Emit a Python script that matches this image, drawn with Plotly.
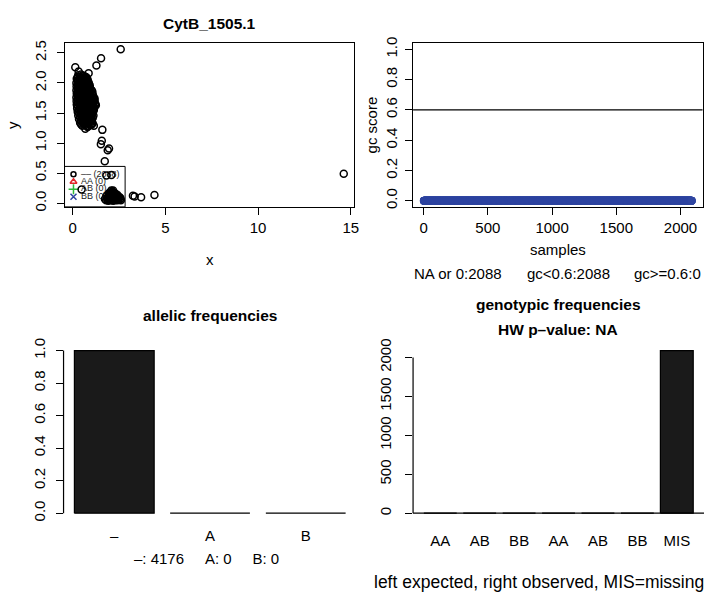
import plotly.graph_objects as go

W, H = 710, 594
FONT = "Liberation Sans"

# ---------------- data ----------------
main_title = "CytB_1505.1"

# dense upper-left cloud (x, y)
cloud_upper = [
    (0.30, 2.13), (0.45, 2.14), (0.60, 2.12), (0.72, 2.10),
    (0.27, 2.10), (0.40, 2.10), (0.53, 2.09), (0.67, 2.10), (0.78, 2.08),
    (0.22, 2.07), (0.36, 2.06), (0.50, 2.05), (0.65, 2.07), (0.80, 2.05),
    (0.27, 2.03), (0.42, 2.04), (0.56, 2.03), (0.70, 2.04), (0.84, 2.02),
    (0.20, 2.00), (0.34, 2.01), (0.48, 1.99), (0.62, 2.00), (0.76, 2.01), (0.88, 1.99),
    (0.27, 1.97), (0.41, 1.98), (0.55, 1.96), (0.69, 1.97), (0.83, 1.98), (0.92, 1.96),
    (0.21, 1.94), (0.35, 1.95), (0.49, 1.93), (0.63, 1.94), (0.77, 1.95), (0.92, 1.93),
    (0.27, 1.91), (0.41, 1.92), (0.55, 1.90), (0.69, 1.91), (0.83, 1.92), (0.96, 1.90),
    (0.20, 1.88), (0.34, 1.89), (0.48, 1.87), (0.62, 1.88), (0.76, 1.89), (0.90, 1.87), (1.02, 1.88),
    (0.27, 1.85), (0.41, 1.86), (0.55, 1.84), (0.69, 1.85), (0.83, 1.86), (0.97, 1.84), (1.06, 1.86),
    (0.22, 1.82), (0.36, 1.83), (0.50, 1.81), (0.64, 1.82), (0.78, 1.83), (0.92, 1.81), (1.06, 1.82),
    (0.27, 1.79), (0.41, 1.80), (0.55, 1.78), (0.69, 1.79), (0.83, 1.80), (0.97, 1.78), (1.10, 1.79),
    (0.20, 1.76), (0.34, 1.77), (0.48, 1.75), (0.62, 1.76), (0.76, 1.77), (0.90, 1.75), (1.04, 1.76), (1.14, 1.75),
    (0.27, 1.73), (0.41, 1.74), (0.55, 1.72), (0.69, 1.73), (0.83, 1.74), (0.97, 1.72), (1.11, 1.73), (1.18, 1.74),
    (0.21, 1.70), (0.35, 1.71), (0.49, 1.69), (0.63, 1.70), (0.77, 1.71), (0.91, 1.69), (1.05, 1.70), (1.18, 1.71),
    (0.28, 1.67), (0.42, 1.68), (0.56, 1.66), (0.70, 1.67), (0.84, 1.68), (0.98, 1.66), (1.12, 1.67), (1.22, 1.66),
    (0.22, 1.64), (0.36, 1.65), (0.50, 1.63), (0.64, 1.64), (0.78, 1.65), (0.92, 1.63), (1.06, 1.64), (1.20, 1.63),
    (0.30, 1.61), (0.44, 1.62), (0.58, 1.60), (0.72, 1.61), (0.86, 1.62), (1.00, 1.60), (1.13, 1.61),
    (0.24, 1.58), (0.38, 1.59), (0.52, 1.57), (0.66, 1.58), (0.80, 1.59), (0.94, 1.57), (1.08, 1.58), (1.16, 1.59),
    (0.33, 1.55), (0.47, 1.56), (0.61, 1.54), (0.75, 1.55), (0.89, 1.56), (1.03, 1.54), (1.14, 1.55),
    (0.27, 1.52), (0.41, 1.53), (0.55, 1.51), (0.69, 1.52), (0.83, 1.53), (0.97, 1.51), (1.10, 1.52),
    (0.36, 1.49), (0.50, 1.50), (0.64, 1.48), (0.78, 1.49), (0.92, 1.50), (1.05, 1.48),
    (0.30, 1.46), (0.44, 1.47), (0.58, 1.45), (0.72, 1.46), (0.86, 1.47), (1.00, 1.45), (1.12, 1.46),
    (0.40, 1.43), (0.54, 1.44), (0.68, 1.42), (0.82, 1.43), (0.96, 1.44), (1.08, 1.42),
    (0.34, 1.40), (0.48, 1.41), (0.62, 1.39), (0.76, 1.40), (0.90, 1.41), (1.04, 1.39),
    (0.44, 1.37), (0.58, 1.38), (0.72, 1.36), (0.86, 1.37), (1.00, 1.38),
    (0.40, 1.34), (0.54, 1.35), (0.68, 1.33), (0.82, 1.34), (0.96, 1.35), (1.08, 1.33),
    (0.46, 1.31), (0.60, 1.32), (0.75, 1.31), (0.92, 1.31), (1.04, 1.32),
    (0.52, 1.29), (0.66, 1.30), (0.84, 1.28), (1.00, 1.30), (1.25, 1.63),
]

# dense lower cloud (x, y)
cloud_lower = [
    (1.80, 0.05), (1.92, 0.04), (2.05, 0.05), (2.18, 0.04), (2.30, 0.05), (2.42, 0.05), (2.55, 0.06),
    (1.74, 0.07), (1.86, 0.07), (1.98, 0.07), (2.10, 0.07), (2.22, 0.07), (2.34, 0.07), (2.46, 0.07), (2.60, 0.05),
    (1.88, 0.09), (2.00, 0.10), (2.12, 0.09), (2.24, 0.10), (2.36, 0.09), (2.48, 0.09), (2.58, 0.08),
    (1.82, 0.12), (1.94, 0.12), (2.06, 0.12), (2.18, 0.12), (2.30, 0.11), (2.42, 0.10), (2.54, 0.10),
    (1.95, 0.14), (2.07, 0.15), (2.19, 0.14), (2.31, 0.13), (2.43, 0.12),
    (1.96, 0.17), (2.08, 0.17), (2.20, 0.16), (2.32, 0.15), (2.40, 0.14),
    (2.02, 0.18), (2.14, 0.19), (2.26, 0.17), (2.08, 0.21), (2.18, 0.21),
]

# scattered points (x, y)
outliers = [
    (2.59, 2.56), (1.53, 2.41), (1.28, 2.29), (0.14, 2.26), (0.32, 2.19), (0.86, 2.16),
    (0.68, 1.24), (0.80, 1.27), (1.14, 1.29), (1.60, 1.22), (1.57, 1.04), (1.52, 0.98),
    (1.96, 0.91), (1.89, 0.88), (1.73, 0.70), (1.82, 0.46), (2.09, 0.47), (0.48, 0.23),
    (3.25, 0.125), (3.34, 0.11), (3.69, 0.10), (4.41, 0.135), (14.62, 0.49),
]

scatter_xticks = [0, 5, 10, 15]
scatter_yticks = [0.0, 0.5, 1.0, 1.5, 2.0, 2.5]

legend_labels = ["–– (2088)", "AA (0)", "AB (0)", "BB (0)"]
legend_symbols = ["circle-open", "triangle-up-open", "cross-thin-open", "x-thin-open"]
legend_colors = ["#000000", "#E3262B", "#2DB83A", "#2F45A0"]
legend_sizes = [5, 6, 7, 6]

n_samples = 2088
sample_index = list(range(1, n_samples + 1))
gc_scores = [0.0] * n_samples
gc_threshold = 0.6
gc_xticks = [0, 500, 1000, 1500, 2000]
gc_yticks = [0.0, 0.2, 0.4, 0.6, 0.8, 1.0]
gc_summary = ["NA or 0:2088", "gc<0.6:2088", "gc>=0.6:0"]

allele_names = ["–", "A", "B"]
allele_freq = [1.0, 0.0, 0.0]
allele_yticks = [0.0, 0.2, 0.4, 0.6, 0.8, 1.0]
allele_summary = "–: 4176\u00a0\u00a0\u00a0\u00a0\u00a0A: 0\u00a0\u00a0\u00a0\u00a0\u00a0B: 0"

geno_names = ["AA", "AB", "BB", "AA", "AB", "BB", "MIS"]
geno_counts = [0, 0, 0, 0, 0, 0, 2088]
geno_yticks = [0, 500, 1000, 1500, 2000]
geno_note = "left expected, right observed, MIS=missing"

# ---------------- helpers ----------------
def fx(px):
    return px / W

def fy(py):
    return 1 - py / H

def r_range(vals, lo=None, hi=None):
    a = min(vals) if lo is None else lo
    b = max(vals) if hi is None else hi
    pad = 0.04 * (b - a)
    return [a - pad, b + pad]

def bar_layout(n, width=1.0, space=0.2):
    centers = [space + width / 2 + i * (width + space) for i in range(n)]
    left = space
    right = n * (width + space)
    return centers, r_range([left, right])

def outline(centers, values, width=1.0):
    xs, ys = [], []
    for c, v in zip(centers, values):
        xs += [c - width / 2, c - width / 2, c + width / 2, c + width / 2, c - width / 2, None]
        ys += [0, v, v, 0, 0, None]
    return xs, ys

# panel pixel boxes (left, right, top, bottom)
TL = (65, 357, 37, 204)
TR = (416, 707.5, 37, 204)
BL = (64, 359, 344, 523.3)
BR = (416, 709, 344, 523.3)

fig = go.Figure()

# ---------------- panel 1: scatter ----------------
all_pts = cloud_upper + cloud_lower + outliers
px_vals = [p[0] for p in all_pts]
py_vals = [p[1] for p in all_pts]
tl_xr = r_range(px_vals)
tl_yr = r_range(py_vals)

def tl_x(px):
    return tl_xr[0] + (px - TL[0]) / (TL[1] - TL[0]) * (tl_xr[1] - tl_xr[0])

def tl_y(py):
    return tl_yr[0] + (TL[3] - py) / (TL[3] - TL[2]) * (tl_yr[1] - tl_yr[0])

# legend (drawn first so points lie on top, like the original)
leg_rows_px = [170.7, 178.3, 186, 193.7]
for sym, col, sz, ry in zip(legend_symbols, legend_colors, legend_sizes, leg_rows_px):
    fig.add_trace(go.Scatter(
        x=[tl_x(74)], y=[tl_y(ry)], mode="markers", xaxis="x", yaxis="y",
        marker=dict(symbol=sym, size=sz, color=col, line=dict(width=1.5, color=col)),
        hoverinfo="skip", showlegend=False, cliponaxis=False))
fig.add_trace(go.Scatter(
    x=[tl_x(81.5)] * len(legend_labels), y=[tl_y(r) for r in leg_rows_px], mode="text",
    text=legend_labels, textposition="middle right", xaxis="x", yaxis="y",
    textfont=dict(family=FONT, size=9, color="#222222"),
    hoverinfo="skip", showlegend=False, cliponaxis=False))

fig.add_trace(go.Scatter(
    x=px_vals, y=py_vals, mode="markers", xaxis="x", yaxis="y",
    marker=dict(symbol="circle-open", size=7, color="black", line=dict(width=1.5, color="black")),
    hoverinfo="skip", showlegend=False))

# ---------------- panel 2: gc score ----------------
fig.add_trace(go.Scatter(
    x=sample_index, y=gc_scores, mode="markers", xaxis="x2", yaxis="y2",
    marker=dict(symbol="circle", size=8, color="#2F45A0", line=dict(width=0)),
    hoverinfo="skip", showlegend=False))

# ---------------- panel 3: allelic ----------------
a_centers, a_xr = bar_layout(len(allele_names))
fig.add_trace(go.Bar(
    x=a_centers, y=allele_freq, width=1.0, xaxis="x3", yaxis="y3",
    marker=dict(color="#1a1a1a", line=dict(width=0)), hoverinfo="skip", showlegend=False))
ox, oy = outline(a_centers, allele_freq)
fig.add_trace(go.Scatter(x=ox, y=oy, mode="lines", xaxis="x3", yaxis="y3",
                         line=dict(color="black", width=1.2), hoverinfo="skip", showlegend=False))

# ---------------- panel 4: genotypic ----------------
g_centers, g_xr = bar_layout(len(geno_names))
fig.add_trace(go.Bar(
    x=g_centers, y=geno_counts, width=1.0, xaxis="x4", yaxis="y4",
    marker=dict(color="#1a1a1a", line=dict(width=0)), hoverinfo="skip", showlegend=False))
ox, oy = outline(g_centers, geno_counts)
fig.add_trace(go.Scatter(x=ox, y=oy, mode="lines", xaxis="x4", yaxis="y4",
                         line=dict(color="black", width=1.2), hoverinfo="skip", showlegend=False))

tickfont = dict(family=FONT, size=15, color="black")
common = dict(showgrid=False, zeroline=False, ticks="outside", ticklen=7, tickwidth=1,
              tickcolor="black", tickfont=tickfont)

def fmt1(v):
    return f"{v:.1f}"

fig.update_layout(
    width=W, height=H, margin=dict(l=0, r=0, t=0, b=0),
    paper_bgcolor="white", plot_bgcolor="white", showlegend=False,
    font=dict(family=FONT, color="black"),
    xaxis=dict(domain=[fx(TL[0]), fx(TL[1])], range=tl_xr, anchor="y",
               tickvals=scatter_xticks, showline=True, mirror=True, linecolor="black", linewidth=1, **common),
    yaxis=dict(domain=[fy(TL[3]), fy(TL[2])], range=tl_yr, anchor="x",
               tickvals=scatter_yticks, ticktext=[fmt1(v) for v in scatter_yticks], tickangle=-90,
               ticklabelstandoff=5,
               showline=True, mirror=True, linecolor="black", linewidth=1, **common),
    xaxis2=dict(domain=[fx(TR[0]), fx(TR[1])], range=r_range(sample_index), anchor="y2",
                tickvals=gc_xticks, showline=True, mirror=True, linecolor="black", linewidth=1, **common),
    yaxis2=dict(domain=[fy(TR[3]), fy(TR[2])], range=r_range([0, 1]), anchor="x2",
                tickvals=gc_yticks, ticktext=[fmt1(v) for v in gc_yticks], tickangle=-90,
                ticklabelstandoff=2,
                showline=True, mirror=True, linecolor="black", linewidth=1, **common),
    xaxis3=dict(domain=[fx(BL[0]), fx(BL[1])], range=a_xr, anchor="y3",
                tickvals=a_centers, ticktext=allele_names, showline=False, ticklabelstandoff=5,
                showgrid=False, zeroline=False, ticks="", tickfont=tickfont),
    yaxis3=dict(domain=[fy(BL[3]), fy(BL[2])], range=r_range([0, 1]), anchor="x3",
                tickvals=allele_yticks, ticktext=[fmt1(v) for v in allele_yticks], tickangle=-90,
                ticklabelstandoff=5, showline=False, **common),
    xaxis4=dict(domain=[fx(BR[0]), fx(BR[1])], range=g_xr, anchor="y4",
                tickvals=g_centers, ticktext=geno_names, showline=False, ticklabelstandoff=10,
                showgrid=False, zeroline=False, ticks="", tickfont=tickfont),
    yaxis4=dict(domain=[fy(BR[3]), fy(BR[2])], range=r_range([0, max(geno_counts)]), anchor="x4",
                tickvals=geno_yticks, tickangle=-90, ticklabelstandoff=8, showline=False, **common),
)

shapes = [
    dict(type="rect", xref="paper", yref="paper", x0=fx(65), x1=fx(126), y0=fy(204), y1=fy(162.7),
         line=dict(color="black", width=1), fillcolor="rgba(0,0,0,0)", layer="below"),
    dict(type="line", xref="x2 domain", yref="y2", x0=0, x1=1, y0=gc_threshold, y1=gc_threshold,
         line=dict(color="black", width=1.2)),
    dict(type="line", xref="x3 domain", yref="y3", x0=0, x1=0, y0=allele_yticks[0], y1=allele_yticks[-1],
         line=dict(color="black", width=1.2)),
    dict(type="line", xref="x4 domain", yref="y4", x0=0, x1=0, y0=geno_yticks[0], y1=geno_yticks[-1],
         line=dict(color="black", width=1.2)),
    dict(type="line", xref="x4 domain", yref="y4", x0=0, x1=1, y0=0, y1=0,
         line=dict(color="black", width=1.2)),
]
fig.update_layout(shapes=shapes)

def ann(text, x, y, size=15, bold=False, angle=0, xanchor="center"):
    return dict(text=f"<b>{text}</b>" if bold else text, x=fx(x), y=fy(y), xref="paper", yref="paper",
                showarrow=False, xanchor=xanchor, yanchor="middle", textangle=angle,
                font=dict(family=FONT, size=size, color="black"))

annotations = [
    ann(main_title, 211, 17, size=15.5, bold=True),
    ann("x", 211, 258),
    ann("y", 12, 120.5, angle=-90),
    ann("gc score", 374, 120.5, angle=-90),
    ann("samples", 562, 248),
    ann(gc_summary[0], 461.7, 272),
    ann(gc_summary[1], 572.5, 272),
    ann(gc_summary[2], 672.3, 272),
    ann("allelic frequencies", 211.5, 315, size=15.5, bold=True),
    ann(allele_summary, 208, 563),
    ann("genotypic frequencies", 562, 304, size=15.5, bold=True),
    ann("HW p–value: NA", 562, 329, size=15.5, bold=True),
    ann(geno_note, 542.5, 586.5, size=17.5),
]
fig.update_layout(annotations=annotations)

fig.write_html("out.html", config={"displayModeBar": False},
               post_script="document.body.style.margin='0';document.body.style.overflow='hidden';")
